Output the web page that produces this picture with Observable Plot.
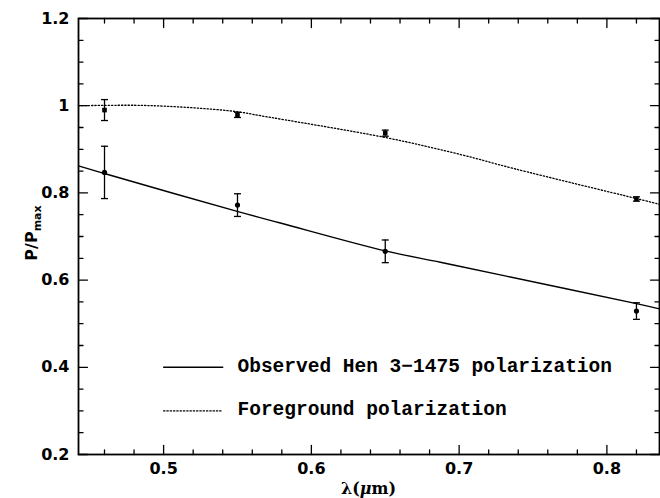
<!DOCTYPE html>
<html>
<head>
<meta charset="utf-8">
<script src="https://cdn.jsdelivr.net/npm/d3@7"></script>
<script src="https://cdn.jsdelivr.net/npm/@observablehq/plot@0.6"></script>
<style>
  html, body { margin: 0; padding: 0; background: #fff; }
  #chart svg { display: block; }
</style>
</head>
<body>
<div id="chart"></div>
<script>
// Measured points (wavelength in micron)
const lambda = [0.46, 0.55, 0.65, 0.82];
const obsP   = [0.847, 0.772, 0.666, 0.529];
const obsErr = [0.060, 0.026, 0.026, 0.019];
const fgP    = [0.990, 0.979, 0.937, 0.786];
const fgErr  = [0.024, 0.006, 0.007, 0.005];

// Fitted curves
const obsCurveL = [0.4424, 0.4605, 0.5504, 0.579, 0.6501, 0.6873, 0.7319, 0.820, 0.8356];
const obsCurveP = [0.862, 0.844, 0.757, 0.731, 0.667, 0.641, 0.609, 0.546, 0.534];
const fgCurveL  = [0.4424, 0.48, 0.50, 0.525, 0.5504, 0.5657, 0.6501, 0.701, 0.7368, 0.820, 0.8356];
const fgCurveP  = [1.000, 1.001, 0.999, 0.994, 0.986, 0.977, 0.927, 0.888, 0.856, 0.787, 0.774];

// Ticks
const xMajor = [0.5, 0.6, 0.7, 0.8];
const xMinor = [0.46, 0.48, 0.52, 0.54, 0.56, 0.58, 0.62, 0.64, 0.66, 0.68, 0.72, 0.74, 0.76, 0.78, 0.82];
const yMajor = [0.2, 0.4, 0.6, 0.8, 1, 1.2];
const yMinor = [0.25, 0.3, 0.35, 0.45, 0.5, 0.55, 0.65, 0.7, 0.75, 0.85, 0.9, 0.95, 1.05, 1.1, 1.15];

// Legend
const legendLabels = ["Observed Hen 3\u22121475 polarization", "Foreground polarization"];
const legendY = [0.4, 0.3];
const legendLineX = [0.5, 0.54];
const legendTextX = 0.55;

const pts = lambda.map((l, i) => ({l, obs: obsP[i], oe: obsErr[i], fg: fgP[i], fe: fgErr[i]}));
const obsCurve = obsCurveL.map((l, i) => ({l, p: obsCurveP[i]}));
const fgCurve = fgCurveL.map((l, i) => ({l, p: fgCurveP[i]}));
const legSolid = legendLineX.map(x => ({x, y: legendY[0]}));
const legDot = legendLineX.map(x => ({x, y: legendY[1]}));
const legText = legendLabels.map((t, i) => ({t, y: legendY[i]}));

const cap = {draw(ctx, size) { const r = Math.sqrt(size / Math.PI); ctx.moveTo(-r, 0); ctx.lineTo(r, 0); }};

// inward tick shapes
const shapes = {
  bottom: {draw(c, l) { c.moveTo(0, 0); c.lineTo(0, -l); }},
  top:    {draw(c, l) { c.moveTo(0, 0); c.lineTo(0, l); }},
  left:   {draw(c, l) { c.moveTo(0, 0); c.lineTo(l, 0); }},
  right:  {draw(c, l) { c.moveTo(0, 0); c.lineTo(-l, 0); }}
};
const tk = (ticks, side, len) => Plot.vector(ticks, {
  ...(side === "bottom" || side === "top" ? {x: d => d} : {y: d => d}),
  frameAnchor: side, length: len, anchor: "start", shape: shapes[side],
  stroke: "#000", strokeWidth: 1.3
});

const plot = Plot.plot({
  width: 660, height: 498,
  marginLeft: 78, marginRight: 1, marginTop: 18, marginBottom: 44,
  x: {domain: [0.4424, 0.8356]},
  y: {domain: [0.2, 1.2]},
  style: {fontFamily: "DejaVu Sans", fontSize: "16px", fontWeight: "bold", color: "#000", background: "#fff"},
  marks: [
    // tick labels
    Plot.axisX(xMajor, {anchor: "bottom", tickSize: 0, tickPadding: 8, tickFormat: d => String(d), label: null}),
    Plot.axisY(yMajor, {anchor: "left", tickSize: 0, tickPadding: 9, tickFormat: d => String(d), label: null}),
    // inward ticks on all four sides
    tk(xMajor, "bottom", 9), tk(xMinor, "bottom", 4.5),
    tk(xMajor, "top", 9), tk(xMinor, "top", 4.5),
    tk(yMajor, "left", 9), tk(yMinor, "left", 4.5),
    tk(yMajor, "right", 9), tk(yMinor, "right", 4.5),
    Plot.frame({stroke: "#000", strokeWidth: 1.8}),
    // curves
    Plot.line(obsCurve, {x: "l", y: "p", curve: "catmull-rom", stroke: "#000", strokeWidth: 1.4}),
    Plot.line(fgCurve, {x: "l", y: "p", curve: "catmull-rom", stroke: "#000", strokeWidth: 1.3, strokeDasharray: "1.3,2"}),
    // error bars
    Plot.ruleX(pts, {x: "l", y1: d => d.obs - d.oe, y2: d => d.obs + d.oe, stroke: "#000", strokeWidth: 1.3}),
    Plot.ruleX(pts, {x: "l", y1: d => d.fg - d.fe, y2: d => d.fg + d.fe, stroke: "#000", strokeWidth: 1.3}),
    Plot.dot(pts, {x: "l", y: d => d.obs - d.oe, symbol: cap, r: 3.5, stroke: "#000", strokeWidth: 1.3}),
    Plot.dot(pts, {x: "l", y: d => d.obs + d.oe, symbol: cap, r: 3.5, stroke: "#000", strokeWidth: 1.3}),
    Plot.dot(pts, {x: "l", y: d => d.fg - d.fe, symbol: cap, r: 3.5, stroke: "#000", strokeWidth: 1.3}),
    Plot.dot(pts, {x: "l", y: d => d.fg + d.fe, symbol: cap, r: 3.5, stroke: "#000", strokeWidth: 1.3}),
    // markers
    Plot.dot(pts, {x: "l", y: "obs", symbol: "circle", r: 2.6, fill: "#000"}),
    Plot.dot(pts, {x: "l", y: "fg", symbol: "square", r: 2.6, fill: "#000"}),
    // legend
    Plot.line(legSolid, {x: "x", y: "y", stroke: "#000", strokeWidth: 1.4}),
    Plot.line(legDot, {x: "x", y: "y", stroke: "#000", strokeWidth: 1.3, strokeDasharray: "1.3,2"}),
    Plot.text(legText, {x: () => legendTextX, y: "y", text: "t", textAnchor: "start", lineAnchor: "bottom", dy: 4.5,
      fontFamily: "Liberation Mono", fontSize: 19.5, fontWeight: "bold", fill: "#000"})
  ]
});

const svg = d3.select(plot);
// y-axis label P/P_max
const yl = svg.append("text")
  .attr("transform", "translate(37,233) rotate(-90)")
  .attr("text-anchor", "middle")
  .attr("font-family", "DejaVu Sans").attr("font-weight", "bold").attr("font-size", 16).attr("fill", "#000");
yl.append("tspan").text("P/P");
yl.append("tspan").attr("font-size", 11).attr("dy", 4).text("max");
// x-axis label
const xl = svg.append("text")
  .attr("x", 368.5).attr("y", 494)
  .attr("text-anchor", "middle")
  .attr("font-family", "DejaVu Serif").attr("font-weight", "bold").attr("font-size", 16).attr("fill", "#000");
xl.append("tspan").text("\u03bb(");
xl.append("tspan").attr("font-style", "italic").text("\u03bc");
xl.append("tspan").text("m)");

document.getElementById("chart").appendChild(plot);
</script>
</body>
</html>
